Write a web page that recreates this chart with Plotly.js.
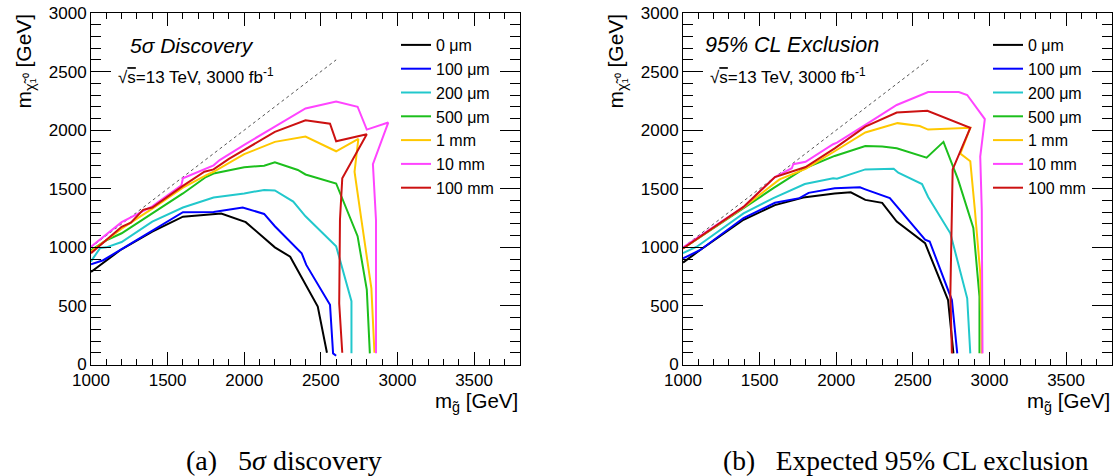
<!DOCTYPE html>
<html><head><meta charset="utf-8">
<script src="https://cdn.plot.ly/plotly-3.0.1.min.js"></script>
<style>html,body{margin:0;padding:0;background:#fff}#plot{width:1115px;height:476px}</style>
</head><body><div id="plot"></div>
<script>
// ---------- data ----------
const legendLabels = ['0 μm', '100 μm', '200 μm', '500 μm', '1 mm', '10 mm', '100 mm'];

// (a) 5 sigma discovery
const disc_0um_x   = [1000, 1190, 1400, 1600, 1850, 2010, 2200, 2300, 2480, 2540];
const disc_0um_y   = [790, 975, 1135, 1262, 1288, 1215, 1000, 920, 495, 100];
const disc_100um_x = [1000, 1080, 1200, 1400, 1600, 1800, 1990, 2130, 2200, 2375, 2405, 2560, 2580, 2600];
const disc_100um_y = [855, 890, 985, 1140, 1300, 1302, 1340, 1285, 1180, 950, 850, 510, 95, 75];
const disc_200um_x = [1000, 1060, 1100, 1200, 1400, 1600, 1800, 2000, 2130, 2200, 2320, 2400, 2600, 2700, 2700];
const disc_200um_y = [880, 995, 1000, 1045, 1220, 1340, 1425, 1460, 1490, 1485, 1390, 1265, 1010, 540, 95];
const disc_500um_x = [1000, 1100, 1200, 1400, 1600, 1750, 1800, 2000, 2130, 2200, 2350, 2400, 2600, 2740, 2800, 2820];
const disc_500um_y = [975, 1060, 1120, 1290, 1460, 1600, 1630, 1683, 1697, 1725, 1660, 1622, 1545, 1095, 640, 95];
const disc_1mm_x   = [1000, 1200, 1400, 1600, 1750, 1800, 2000, 2200, 2400, 2600, 2745, 2720, 2765, 2830, 2850];
const disc_1mm_y   = [965, 1160, 1330, 1510, 1615, 1645, 1795, 1900, 1945, 1820, 1925, 1645, 1235, 650, 100];
const disc_10mm_x  = [1000, 1200, 1400, 1590, 1600, 1800, 1840, 2000, 2200, 2400, 2600, 2740, 2800, 2940, 2840, 2860, 2860];
const disc_10mm_y  = [1005, 1215, 1350, 1530, 1590, 1700, 1745, 1875, 2030, 2185, 2245, 2200, 2005, 2065, 1710, 1235, 95];
const disc_100mm_x = [1000, 1100, 1200, 1260, 1340, 1400, 1600, 1740, 1800, 1900, 2000, 2200, 2400, 2560, 2600, 2800, 2640, 2625, 2620, 2640];
const disc_100mm_y = [950, 1060, 1175, 1210, 1320, 1340, 1525, 1645, 1665, 1755, 1830, 1985, 2085, 2055, 1905, 1965, 1590, 1235, 520, 100];

// (b) expected 95% CL exclusion
const excl_0um_x   = [1000, 1110, 1395, 1600, 1785, 1990, 2095, 2190, 2300, 2395, 2580, 2730, 2765];
const excl_0um_y   = [870, 975, 1235, 1360, 1425, 1460, 1470, 1405, 1380, 1220, 1035, 550, 95];
const excl_100um_x = [1000, 1110, 1395, 1600, 1760, 1820, 1990, 2155, 2190, 2350, 2580, 2610, 2755, 2790];
const excl_100um_y = [905, 975, 1250, 1380, 1420, 1465, 1505, 1512, 1495, 1420, 1065, 1050, 550, 95];
const excl_200um_x = [1000, 1090, 1395, 1590, 1795, 1980, 2005, 2190, 2375, 2405, 2560, 2600, 2745, 2855, 2875];
const excl_200um_y = [950, 1005, 1290, 1420, 1540, 1590, 1585, 1665, 1670, 1637, 1540, 1430, 1120, 565, 95];
const excl_500um_x = [1000, 1395, 1590, 1795, 1990, 2190, 2300, 2395, 2590, 2700, 2795, 2895, 2935, 2935];
const excl_500um_y = [990, 1335, 1505, 1675, 1780, 1865, 1860, 1845, 1765, 1900, 1580, 1165, 580, 95];
const excl_1mm_x   = [1000, 1395, 1630, 1800, 1990, 2190, 2400, 2545, 2600, 2875, 2810, 2875, 2905, 2940, 2950];
const excl_1mm_y   = [990, 1340, 1580, 1670, 1820, 1980, 2060, 2035, 2005, 2020, 1800, 1735, 1320, 780, 95];
const excl_10mm_x  = [1000, 1395, 1600, 1710, 1720, 1800, 1980, 2005, 2190, 2395, 2600, 2800, 2855, 2970, 2940, 2950, 2955];
const excl_10mm_y  = [1000, 1345, 1600, 1675, 1710, 1730, 1880, 1893, 2045, 2215, 2325, 2325, 2300, 2095, 1775, 1320, 95];
const excl_100mm_x = [1000, 1395, 1600, 1700, 1800, 1990, 2190, 2395, 2595, 2875, 2760, 2745, 2755];
const excl_100mm_y = [990, 1345, 1600, 1645, 1685, 1845, 2030, 2150, 2165, 2020, 1665, 600, 95];

// m(neutralino) = m(gluino) reference line
const diag_x = [1000, 2600];
const diag_y = [1000, 2600];

const xTickVals = [1000, 1500, 2000, 2500, 3000, 3500];
const yTickVals = [0, 500, 1000, 1500, 2000, 2500, 3000];

// ---------- styling ----------
const colors = ['#000000', '#0000ff', '#22c8cc', '#1cbf1c', '#ffc800', '#ff44ff', '#cc1111'];
const SANS = 'Liberation Sans, Arial, Helvetica, sans-serif';
const SERIF = 'Liberation Serif, DejaVu Serif, serif';

const discX = [disc_0um_x, disc_100um_x, disc_200um_x, disc_500um_x, disc_1mm_x, disc_10mm_x, disc_100mm_x];
const discY = [disc_0um_y, disc_100um_y, disc_200um_y, disc_500um_y, disc_1mm_y, disc_10mm_y, disc_100mm_y];
const exclX = [excl_0um_x, excl_100um_x, excl_200um_x, excl_500um_x, excl_1mm_x, excl_10mm_x, excl_100mm_x];
const exclY = [excl_0um_y, excl_100um_y, excl_200um_y, excl_500um_y, excl_1mm_y, excl_10mm_y, excl_100mm_y];

const traces = [];
traces.push({x: diag_x, y: diag_y, xaxis: 'x', yaxis: 'y', mode: 'lines',
  line: {color: '#555', width: 1, dash: 'dot'}, showlegend: false, hoverinfo: 'skip'});
traces.push({x: diag_x, y: diag_y, xaxis: 'x2', yaxis: 'y2', mode: 'lines',
  line: {color: '#555', width: 1, dash: 'dot'}, showlegend: false, hoverinfo: 'skip'});
for (let i = 0; i < legendLabels.length; i++) {
  traces.push({x: discX[i], y: discY[i], xaxis: 'x', yaxis: 'y', mode: 'lines', name: legendLabels[i],
    line: {color: colors[i], width: 2}, legend: 'legend'});
}
for (let i = 0; i < legendLabels.length; i++) {
  traces.push({x: exclX[i], y: exclY[i], xaxis: 'x2', yaxis: 'y2', mode: 'lines', name: legendLabels[i],
    line: {color: colors[i], width: 2}, legend: 'legend2'});
}

const W = 1115, H = 476;
const xd1 = [91 / W, 520 / W], xd2 = [683 / W, 1112 / W];
const yd = [(H - 364.5) / H, (H - 13) / H];
const px = v => v / W, py = v => 1 - v / H;

function xax(domain, anchor) {
  return {domain: domain, anchor: anchor, range: [1000, 3800], tickmode: 'array', tickvals: xTickVals,
    ticks: 'inside', ticklen: 13, tickwidth: 1, tickcolor: '#000', showline: true, linecolor: '#000', linewidth: 1,
    mirror: 'ticks', showgrid: false, zeroline: false,
    minor: {tick0: 1000, dtick: 100, ticks: 'inside', ticklen: 6, tickcolor: '#000', tickwidth: 1, showgrid: false},
    tickfont: {family: SANS, size: 17, color: '#000'}};
}
function yax(anchor) {
  return {domain: yd, anchor: anchor, range: [0, 3000], tickmode: 'array', tickvals: yTickVals,
    ticks: 'inside', ticklen: 20, tickwidth: 1, tickcolor: '#000', showline: true, linecolor: '#000', linewidth: 1,
    mirror: 'ticks', showgrid: false, zeroline: false,
    minor: {tick0: 0, dtick: 100, ticks: 'inside', ticklen: 10, tickcolor: '#000', tickwidth: 1, showgrid: false},
    tickfont: {family: SANS, size: 17, color: '#000'}};
}
function leg(x0) {
  return {x: px(x0), xanchor: 'left', y: py(28), yanchor: 'top', bgcolor: 'rgba(0,0,0,0)', borderwidth: 0,
    font: {family: SANS, size: 16, color: '#000'}, tracegroupgap: 0, itemwidth: 30};
}
const ann = [];
function addText(text, x, y, opts) {
  ann.push(Object.assign({text: text, xref: 'paper', yref: 'paper', x: px(x), y: py(y), showarrow: false,
    xanchor: 'left', yanchor: 'middle', font: {family: SANS, size: 17, color: '#000'}}, opts || {}));
}
// panel texts
addText('<i>5σ Discovery</i>', 128, 45, {font: {family: SANS, size: 21, color: '#000'}});
addText('√<span style="text-decoration:overline">s</span>=13 TeV, 3000 fb<sup>-1</sup>', 116, 76, {font: {family: SANS, size: 17, color: '#000'}});
addText('<i>95% CL Exclusion</i>', 703, 45, {font: {family: SANS, size: 21.5, color: '#000'}});
addText('√<span style="text-decoration:overline">s</span>=13 TeV, 3000 fb<sup>-1</sup>', 708, 76, {font: {family: SANS, size: 17, color: '#000'}});
// axis titles
[[520, 24], [1112, 616]].forEach(([xr, yl]) => {
  addText('m<sub>g̃</sub> [GeV]', xr, 402, {xanchor: 'right', font: {family: SANS, size: 20.5, color: '#000'}});
  addText('m<sub>χ̃₁⁰</sub> [GeV]', yl, 12, {xanchor: 'center', yanchor: 'top', textangle: -90, font: {family: SANS, size: 21, color: '#000'}});
});
// captions
addText('(a)&nbsp;&nbsp;&nbsp;5<i>σ</i> discovery', 284, 460, {xanchor: 'center', font: {family: SERIF, size: 28, color: '#000'}});
addText('(b)&nbsp;&nbsp;&nbsp;Expected 95% CL exclusion', 906, 460, {xanchor: 'center', font: {family: SERIF, size: 27.5, color: '#000'}});

const layout = {
  width: W, height: H, margin: {l: 0, r: 0, t: 0, b: 0}, paper_bgcolor: '#fff', plot_bgcolor: '#fff',
  xaxis: xax(xd1, 'y'), yaxis: yax('x'), xaxis2: xax(xd2, 'y2'), yaxis2: yax('x2'),
  legend: leg(396), legend2: leg(988), annotations: ann, showlegend: true
};
Plotly.newPlot('plot', traces, layout, {displayModeBar: false, staticPlot: true});
</script></body></html>
